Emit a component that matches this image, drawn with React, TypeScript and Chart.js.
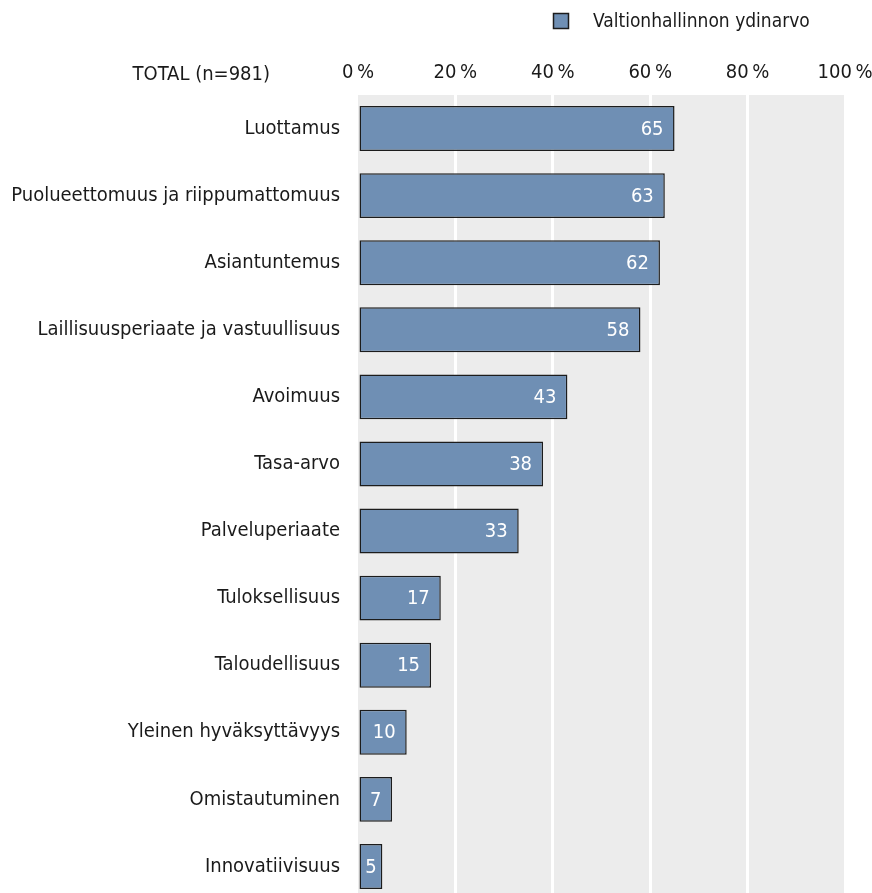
import React, { useEffect, useRef } from "react";
import { Chart, registerables } from "chart.js";

Chart.register(...registerables);

const categories = [
  "Luottamus",
  "Puolueettomuus ja riippumattomuus",
  "Asiantuntemus",
  "Laillisuusperiaate ja vastuullisuus",
  "Avoimuus",
  "Tasa-arvo",
  "Palveluperiaate",
  "Tuloksellisuus",
  "Taloudellisuus",
  "Yleinen hyväksyttävyys",
  "Omistautuminen",
  "Innovatiivisuus",
];
const values = [65, 63, 62, 58, 43, 38, 33, 17, 15, 10, 7, 5];
const seriesName = "Valtionhallinnon ydinarvo";
const title = "TOTAL (n=981)";
const tickValues = [0, 20, 40, 60, 80, 100];

const FONT = "'Liberation Sans Narrow', 'DejaVu Sans Condensed', 'Arial Narrow', sans-serif";
const BAR = "#6f8fb4";
const EDGE = "#1c1c1c";
const TEXT = "#1a1a1a";

export default function App() {
  const ref = useRef<HTMLCanvasElement>(null);
  useEffect(() => {
    document.body.style.margin = "0";
    const ctx = ref.current!.getContext("2d")!;
    const extras = {
      id: "extras",
      beforeDraw(chart: any) {
        const { ctx, chartArea } = chart;
        ctx.save();
        ctx.fillStyle = "#ececec";
        ctx.fillRect(chartArea.left, chartArea.top, chartArea.right - chartArea.left + 1, chartArea.bottom - chartArea.top);
        ctx.restore();
      },
      afterDraw(chart: any) {
        const { ctx, chartArea } = chart;
        const meta = chart.getDatasetMeta(0);
        ctx.save();
        // data labels
        ctx.font = `20px ${FONT}`;
        ctx.fillStyle = "#ffffff";
        ctx.textBaseline = "middle";
        meta.data.forEach((bar: any, i: number) => {
          const left = bar.base;
          const right = bar.x;
          const w = right - left;
          const txt = String(values[i]);
          const tw = ctx.measureText(txt).width;
          if (tw + 24 > w) {
            ctx.textAlign = "center";
            ctx.fillText(txt, left + w / 2, bar.y + 1);
          } else {
            ctx.textAlign = "right";
            ctx.fillText(txt, right - 11, bar.y + 1);
          }
        });
        // title
        ctx.fillStyle = TEXT;
        ctx.textAlign = "right";
        ctx.fillText(title, chartArea.left - 88, 75);
        // legend
        ctx.fillStyle = BAR;
        ctx.fillRect(553.5, 13.5, 15, 15);
        ctx.strokeStyle = EDGE;
        ctx.lineWidth = 1.5;
        ctx.strokeRect(553.5, 13.5, 15, 15);
        ctx.fillStyle = TEXT;
        ctx.textAlign = "left";
        ctx.font = `19px ${FONT}`;
        ctx.fillText(seriesName, 593, 22);
        ctx.restore();
      },
    };
    const chart = new Chart(ctx, {
      type: "bar",
      data: {
        labels: categories,
        datasets: [
          {
            label: seriesName,
            data: values,
            backgroundColor: BAR,
            borderColor: EDGE,
            borderWidth: 1.5,
            borderSkipped: false,
            barPercentage: 0.67,
            categoryPercentage: 1,
          },
        ],
      },
      options: {
        indexAxis: "y",
        animation: false,
        responsive: false,
        maintainAspectRatio: false,
        layout: { padding: { top: 0, left: 0, right: 27, bottom: 0 } },
        plugins: { legend: { display: false }, tooltip: { enabled: false } },
        scales: {
          x: {
            position: "top",
            min: 0,
            max: 100,
            afterFit(scale: any) {
              scale.height = 95;
              scale.paddingLeft = 0;
              scale.paddingRight = 0;
              scale.paddingTop = 0;
              scale.paddingBottom = 0;
            },
            afterBuildTicks(scale: any) {
              scale.ticks = tickValues.map((v) => ({ value: v }));
            },
            grid: {
              color: (c: any) => (c.tick && c.tick.value === 0 ? "rgba(0,0,0,0)" : "#ffffff"),
              lineWidth: 3,
              drawTicks: false,
            },
            border: { display: false },
            ticks: {
              padding: 10,
              color: TEXT,
              font: { family: FONT, size: 20 },
              callback: (v: any) => `${v}\u2009%`,
            },
          },
          y: {
            afterFit(scale: any) {
              scale.width = 358;
              scale.paddingLeft = 0;
              scale.paddingRight = 0;
              scale.paddingTop = 0;
              scale.paddingBottom = 0;
            },
            grid: { display: false, drawTicks: false },
            border: { display: false },
            ticks: {
              padding: 18,
              color: TEXT,
              font: { family: FONT, size: 20 },
            },
          },
        },
      },
      plugins: [extras],
    });
    return () => chart.destroy();
  }, []);
  return (
    <div style={{ position: "relative", width: 872, height: 893, overflow: "hidden" }}>
      <canvas ref={ref} width={872} height={900} style={{ display: "block", width: 872, height: 900 }} />
    </div>
  );
}
